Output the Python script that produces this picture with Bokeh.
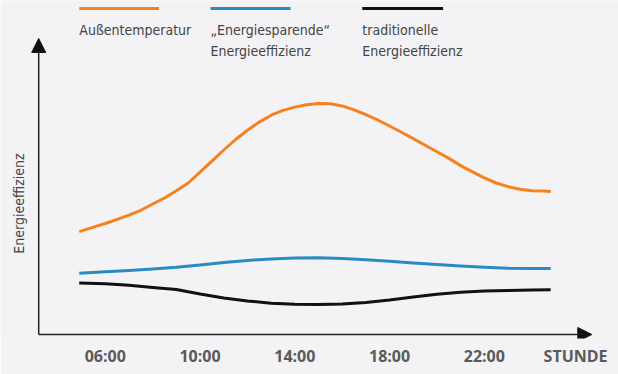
from math import pi
from bokeh.plotting import figure
from bokeh.models import (Range1d, LinearAxis, FixedTicker, Label, Arrow,
                          NormalHead, ColumnDataSource)
from bokeh.embed import file_html
from bokeh.resources import INLINE

# ---------------- data ----------------
hours_temp = [4.9, 5.5, 6, 6.5, 7, 7.5, 8, 8.5, 9, 9.5, 10, 10.5, 11, 11.5,
              12, 12.5, 13, 13.5, 14, 14.5, 15, 15.5, 16, 16.5, 17, 17.5,
              18, 18.5, 19, 19.5, 20, 20.5, 21, 21.5, 22, 22.5, 23, 23.5,
              24, 24.5, 24.8]
outside_temp = [34.3, 35.8, 37.0, 38.4, 39.8, 41.4, 43.5, 45.5, 47.9, 50.5,
                54.1, 57.8, 61.5, 65.0, 68.1, 70.8, 73.1, 74.7, 75.8, 76.6,
                77.0, 76.9, 76.2, 74.9, 73.3, 71.5, 69.5, 67.4, 65.3, 63.1,
                60.9, 58.7, 56.3, 54.2, 52.2, 50.5, 49.3, 48.4, 47.9, 47.8, 47.7]

hours = [4.9, 6, 7, 8, 9, 10, 11, 12, 13, 14, 15, 16, 17, 18, 19, 20,
         21, 22, 23, 24, 24.8]
saving_eff = [20.4, 20.9, 21.3, 21.8, 22.4, 23.2, 24.0, 24.7, 25.2, 25.5,
              25.6, 25.3, 24.9, 24.4, 23.8, 23.3, 22.8, 22.4, 22.1, 22.0, 22.0]
traditional_eff = [17.2, 16.9, 16.4, 15.7, 15.0, 13.5, 12.2, 11.2, 10.4, 10.1,
                   10.0, 10.2, 10.7, 11.5, 12.5, 13.4, 14.1, 14.5, 14.7, 14.8, 14.9]

x_ticks = [6, 10, 14, 18, 22]
x_tick_labels = ["06:00", "10:00", "14:00", "18:00", "22:00"]
x_unit_label = "STUNDE"
y_label = "Energieeffizienz"
series_labels = [["Außentemperatur"],
                 ["\u201eEnergiesparende\u201c", "Energieeffizienz"],
                 ["traditionelle", "Energieeffizienz"]]
series_colors = ["#f5821f", "#2a8bc2", "#111111"]

# ---------------- layout helpers (picture pixel -> data) ----------------
PX_HOUR6 = 104.8
PX_PER_HOUR = 23.69
PY_ZERO = 334.0
PX_PER_UNIT = 3.0


def hx(px):
    return 6 + (px - PX_HOUR6) / PX_PER_HOUR


def vy(py):
    return (PY_ZERO - py) / PX_PER_UNIT


W, H, BOTTOM = 618, 374, 36
p = figure(width=W, height=H, output_backend="svg",
           toolbar_location=None, x_axis_location=None, y_axis_location=None,
           x_range=Range1d(hx(0), hx(W)), y_range=Range1d(vy(H - BOTTOM), vy(0)),
           min_border=0, min_border_bottom=BOTTOM,
           background_fill_color="#f3f2f4",
           border_fill_color="#f3f2f4", outline_line_color=None)
p.grid.visible = False

FONT_NARROW = "Liberation Sans Narrow, DejaVu Sans Condensed, Open Sans"
TEXT_COL = "#444444"

# x axis with tick labels
stunde_pos = hx(575.1)
xa = LinearAxis(ticker=FixedTicker(ticks=x_ticks + [stunde_pos]))
overrides = {t: l for t, l in zip(x_ticks, x_tick_labels)}
overrides[stunde_pos] = x_unit_label
xa.major_label_overrides = overrides
xa.axis_line_color = None
xa.major_tick_line_color = None
xa.minor_tick_line_color = None
xa.major_tick_out = 0
xa.major_label_standoff = 6
xa.major_label_text_font = "Open Sans"
xa.major_label_text_font_style = "bold"
xa.major_label_text_font_size = "16px"
xa.major_label_text_color = "#5a5a5c"
p.add_layout(xa, "below")

# data lines
src_t = ColumnDataSource(dict(h=hours_temp, v=outside_temp))
src_s = ColumnDataSource(dict(h=hours, v=saving_eff))
src_r = ColumnDataSource(dict(h=hours, v=traditional_eff))
for src, c in zip([src_t, src_s, src_r], series_colors):
    p.line("h", "v", source=src, line_color=c, line_width=3,
           line_join="round", line_cap="butt")

# axis arrows
head = dict(size=14, fill_color="#111111", line_color="#111111")
p.add_layout(Arrow(x_start=hx(38.2), y_start=vy(334), x_end=hx(38.2), y_end=vy(38),
                   line_color="#222222", line_width=1.5, end=NormalHead(**head)))
p.add_layout(Arrow(x_start=hx(38.2), y_start=vy(334), x_end=hx(591.3), y_end=vy(334),
                   line_color="#222222", line_width=1.5, end=NormalHead(**head)))

# y label
p.add_layout(Label(x=hx(18.5), y=vy(203), text=y_label, angle=pi / 2,
                   text_align="center", text_baseline="middle",
                   text_font=FONT_NARROW, text_font_size="14px", text_color=TEXT_COL))

# legend
leg_x = [(78.8, 158.5), (210.0, 290.0), (361.8, 442.6)]
for (x0, x1), c, lines in zip(leg_x, series_colors, series_labels):
    p.segment(x0=[hx(x0)], y0=[vy(8)], x1=[hx(x1)], y1=[vy(8)],
              line_color=c, line_width=3)
    for i, t in enumerate(lines):
        p.add_layout(Label(x=hx(x0), y=vy(29.5 + 21 * i), text=t,
                           text_align="left", text_baseline="middle",
                           text_font=FONT_NARROW, text_font_size="14px",
                           text_color=TEXT_COL))

open("out.html", "w").write(file_html(p, INLINE))
